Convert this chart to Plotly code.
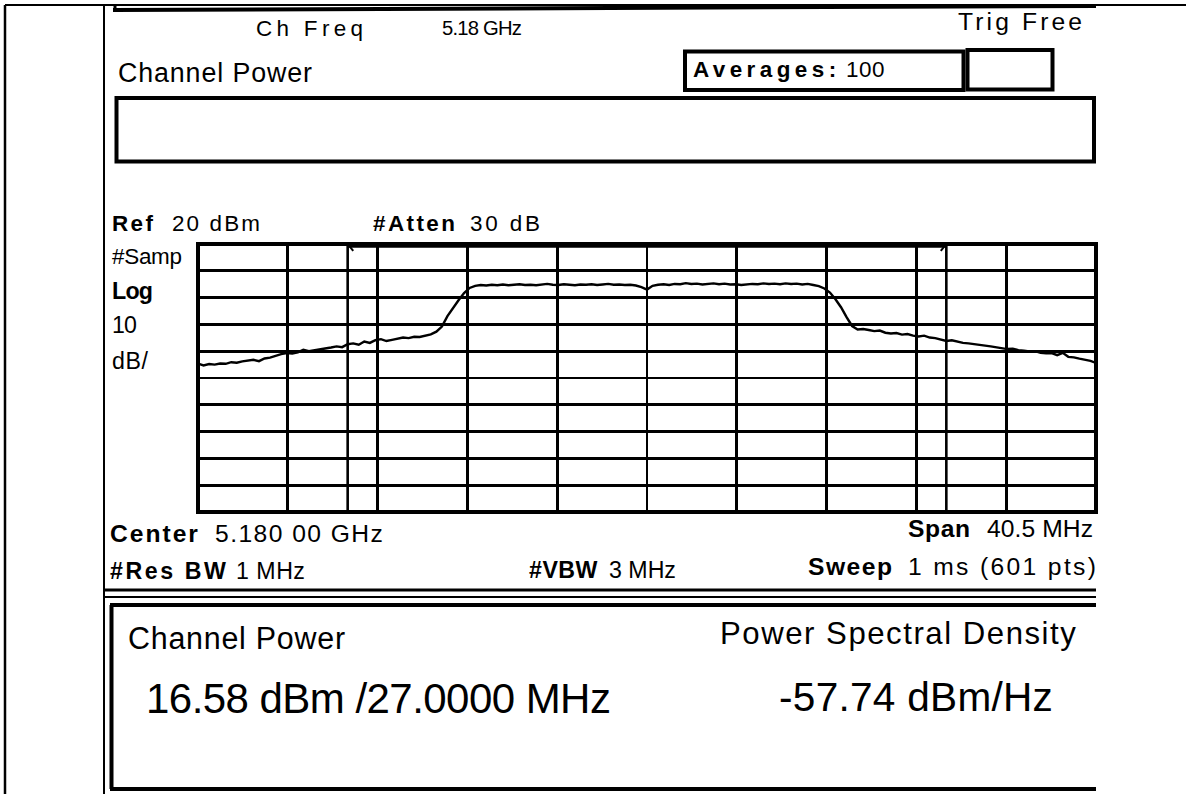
import numpy as np
import plotly.graph_objects as go

# ------------------------------------------------------------------ data
center_freq_ghz = 5.18
span_mhz = 40.5
ref_level_dbm = 20
db_per_div = 10
n_divisions = 10
channel_bw_mhz = 27.0
n_read_points = 163          # points (instrument sweep: 601 pts)

# frequency offset from centre (MHz) of every read point (uniform sweep)
freq_offset_mhz = np.linspace(-span_mhz / 2, span_mhz / 2, n_read_points)

trace_dbm = [
    -24.6, -25.3, -24.8, -25.0, -24.6, -24.7, -24.1, -24.3, -23.8, -23.6,
    -23.2, -23.7, -22.7, -22.4, -21.6, -21.1, -20.7, -20.9, -20.4, -19.5,
    -20.0, -19.7, -19.3, -19.1, -18.6, -18.2, -18.5, -17.4, -17.1, -17.6,
    -16.4, -16.9, -15.9, -15.5, -16.2, -15.8, -15.3, -14.9, -15.1, -14.6,
    -14.7, -14.2, -13.7, -12.7, -10.8, -6.9, -3.8, -1.0, 1.7, 3.6,
    4.4, 4.7, 4.5, 4.8, 4.6, 4.9, 4.6, 4.7, 5.0, 4.7,
    4.8, 4.6, 4.9, 5.1, 4.8, 4.7, 5.0, 4.8, 4.6, 4.9,
    4.8, 5.0, 4.7, 4.9, 5.1, 4.8, 4.9, 4.7, 4.8, 4.5,
    3.9, 3.0, 4.4, 4.8, 5.0, 4.7, 5.1, 5.0, 5.4, 5.1,
    5.2, 4.9, 5.1, 5.3, 5.0, 5.2, 4.9, 5.0, 4.7, 4.9,
    5.1, 5.0, 5.3, 5.1, 5.2, 5.0, 5.3, 5.1, 5.2, 4.9,
    5.1, 4.7, 4.3, 3.4, 1.9, -0.6, -3.6, -7.3, -10.6, -11.9,
    -11.7, -12.1, -12.5, -12.3, -13.1, -13.4, -13.2, -13.8, -13.6, -14.2,
    -14.5, -14.2, -14.9, -15.1, -15.8, -16.2, -15.9, -16.5, -16.9, -17.1,
    -17.3, -17.7, -17.9, -18.2, -18.5, -18.8, -19.2, -19.1, -19.6, -19.8,
    -20.1, -20.0, -20.6, -20.8, -20.7, -21.5, -20.6, -22.1, -22.3, -22.8,
    -23.1, -23.6, -24.4,
]

channel_power_text = "16.58 dBm /27.0000 MHz"
psd_text = "-57.74 dBm/Hz"

# ------------------------------------------------------------------ layout helpers
W, H = 1186, 794
FONT = "Liberation Sans, Arial, sans-serif"
CAP = 0.69
MIN_LS = -0.8

REG = {' ': 278, '#': 556, '(': 333, ')': 333, '-': 333, '.': 278, '/': 278, ':': 278,
       'A': 667, 'B': 667, 'C': 722, 'D': 722, 'F': 611, 'G': 778, 'H': 722, 'L': 556,
       'M': 833, 'P': 667, 'R': 722, 'S': 667, 'T': 611, 'V': 667, 'W': 944,
       'a': 556, 'c': 500, 'd': 556, 'e': 556, 'f': 278, 'g': 556, 'h': 556, 'i': 222,
       'l': 222, 'm': 833, 'n': 556, 'o': 556, 'p': 556, 'q': 556, 'r': 333, 's': 500,
       't': 278, 'v': 500, 'w': 722, 'y': 500, 'z': 500}
BOLD = {' ': 278, '#': 556, ':': 333, 'A': 722, 'B': 722, 'C': 722, 'L': 611, 'R': 722,
        'S': 667, 'V': 667, 'W': 944, 'a': 556, 'e': 556, 'f': 333, 'g': 611, 'n': 611,
        'o': 611, 'p': 611, 'r': 389, 's': 556, 't': 333, 'v': 556, 'w': 778}


def px(x):
    return x / W


def py(y):
    return 1 - y / H


def em_width(s, bold):
    tab = BOLD if bold else REG
    return sum(tab.get(c, 556) for c in s) / 1000.0


annotations = []


def label(s, x0, x1, top, base, bold=False):
    size = (base - top) / CAP
    n = max(len(s) - 1, 1)
    target = x1 - x0
    em = em_width(s, bold)
    if em * size > target - MIN_LS * n:
        size = (target - MIN_LS * n) / em
    ls = (target - em * size) / n
    txt = '<b>' + s + '</b>' if bold else s
    annotations.append(dict(
        text='<span style="letter-spacing:%.2fpx">%s</span>' % (ls, txt),
        x=px(x0), y=py((top + base) / 2), xref='paper', yref='paper',
        xanchor='left', yanchor='middle', showarrow=False,
        borderpad=0, borderwidth=0,
        font=dict(family=FONT, size=size, color='black')))


shapes = []


def seg(x0, y0, x1, y1, w):
    shapes.append(dict(type='line', xref='paper', yref='paper',
                       x0=px(x0), y0=py(y0), x1=px(x1), y1=py(y1),
                       line=dict(color='black', width=w), layer='above'))


def box(x0, y0, x1, y1, w):
    shapes.append(dict(type='rect', xref='paper', yref='paper',
                       x0=px(x0), y0=py(y0), x1=px(x1), y1=py(y1),
                       line=dict(color='black', width=w), fillcolor='rgba(0,0,0,0)',
                       layer='above'))


# ------------------------------------------------------------------ page frame
seg(5, 5, W, 5, 2)
seg(5, 5, 5, H, 2.5)
seg(104, 5, 104, H, 2)
seg(113, 10, 1096, 6, 4)
seg(115, 5, 115, 10, 3)
box(685, 51.5, 963.5, 90, 4)
box(967.5, 50, 1052.5, 89.5, 4)
box(116.5, 98, 1094, 161.5, 4)
seg(104, 590, 1096, 590, 3)
seg(104, 597, 1096, 597, 2)
seg(110, 605, 1096, 605, 4)
seg(111.5, 605, 111.5, 789, 4)
seg(110, 789, 1096, 789, 4)

# ------------------------------------------------------------------ texts
label("Ch Freq", 256, 363, 20.5, 36)
label("5.18 GHz", 442, 522, 20.5, 36)
label("Trig Free", 958, 1083, 13.5, 30.5)
label("Channel Power", 118, 312, 64, 82.5)
label("Averages:", 693, 837, 62, 77.5, bold=True)
label("100", 846, 884.5, 62, 77.5)
label("Ref", 112, 153, 216, 231.5, bold=True)
label("20 dBm", 172, 260, 216, 231.5)
label("#Atten", 373, 455, 216, 231.5, bold=True)
label("30 dB", 470, 540, 216, 231.5)
label("#Samp", 112, 182, 249, 264.5)
label("Log", 112, 153, 282, 299, bold=True)
label("10", 112, 137, 317, 333)
label("dB/", 112, 148, 353, 369)
label("Center", 110, 198, 525, 542, bold=True)
label("5.180 00 GHz", 215, 383, 525, 542)
label("#Res BW", 110, 226, 563, 579, bold=True)
label("1 MHz", 236, 305, 563, 579)
label("#VBW", 529, 597.5, 562, 578, bold=True)
label("3 MHz", 609, 676, 562, 578)
label("Span", 908, 970, 520, 537, bold=True)
label("40.5 MHz", 987, 1093, 520, 537)
label("Sweep", 808, 892, 558, 575, bold=True)
label("1 ms (601 pts)", 908, 1096, 558, 575)
label("Channel Power", 128, 345, 627, 648)
label(channel_power_text, 146, 611, 684, 713)
label("Power Spectral Density", 720, 1076, 623, 644.5)
label(psd_text, 779, 1053, 683, 711)

# ------------------------------------------------------------------ graticule + trace
x_half = span_mhz / 2
bottom_dbm = ref_level_dbm - db_per_div * n_divisions

fig = go.Figure()
fig.add_trace(go.Scatter(x=freq_offset_mhz, y=trace_dbm, mode='lines',
                         line=dict(color='black', width=2.4), hoverinfo='skip'))

# channel-bandwidth markers
bw_half = channel_bw_mhz / 2
for sgn in (-1, 1):
    shapes.append(dict(type='line', xref='x', yref='y domain', x0=sgn * bw_half, x1=sgn * bw_half,
                       y0=0, y1=1, line=dict(color='black', width=2.6), layer='above'))
    shapes.append(dict(type='line', xref='x', yref='y', x0=sgn * bw_half, y0=ref_level_dbm,
                       x1=sgn * (bw_half - 0.25), y1=ref_level_dbm - 2.6,
                       line=dict(color='black', width=2), layer='above'))
shapes.append(dict(type='line', xref='x', yref='y', x0=-bw_half, x1=bw_half,
                   y0=ref_level_dbm - 1.0, y1=ref_level_dbm - 1.0,
                   line=dict(color='black', width=2), layer='above'))
# graticule border
shapes.append(dict(type='rect', xref='x domain', yref='y domain', x0=0, x1=1, y0=0, y1=1,
                   line=dict(color='black', width=4), layer='above'))

axis_common = dict(showgrid=True, gridcolor='black', gridwidth=2.6, showticklabels=False,
                   ticks='', zeroline=False, showline=False, fixedrange=True)
fig.update_layout(
    width=W, height=H, autosize=False,
    margin=dict(l=0, r=0, t=0, b=0),
    paper_bgcolor='white', plot_bgcolor='white',
    showlegend=False,
    xaxis=dict(domain=[px(198), px(1096)], range=[-x_half, x_half],
               tick0=-x_half, dtick=span_mhz / n_divisions, **axis_common),
    yaxis=dict(domain=[py(512), py(244)], range=[bottom_dbm, ref_level_dbm],
               tick0=bottom_dbm, dtick=db_per_div, **axis_common),
    shapes=shapes,
    annotations=annotations,
)

fig.write_html("out.html", config={'displayModeBar': False, 'staticPlot': True},
               post_script="document.body.style.margin='0';document.body.style.overflow='hidden';")
